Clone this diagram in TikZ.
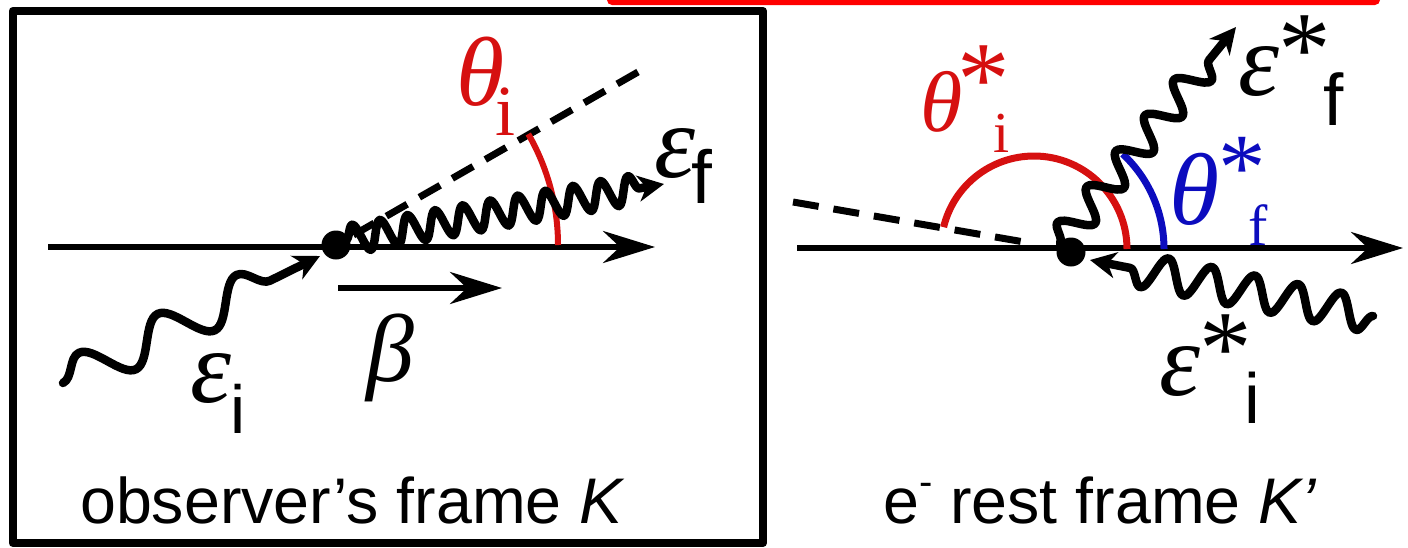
\documentclass[tikz,border=0pt]{standalone}
\usepackage{fontspec}
\setmainfont{Liberation Sans}
\newfontfamily\serifgr{Liberation Serif}
\usetikzlibrary{arrows.meta,decorations.pathmorphing}
\definecolor{angred}{RGB}{214,16,16}
\definecolor{angblue}{RGB}{12,12,190}
\newcommand{\fsz}[1]{\fontsize{#1}{#1}\selectfont}
\begin{document}
\begin{tikzpicture}[x=1pt,y=-1pt,
  axisarrow/.style={line width=5.5pt, -{Stealth[length=52pt,width=32pt,inset=17pt]}},
  photon/.style={line width=8.5pt, line cap=round, line join=round, decorate, -{Stealth[length=26pt,width=26pt,inset=8pt]}},
  dashline/.style={line width=7pt, dash pattern=on 24pt off 14pt},
  electron/.style={circle, fill=black, inner sep=0pt, minimum size=29pt},
  lbl/.style={inner sep=0pt, anchor=center},
  grk/.style={lbl, font=\serifgr\itshape\fsz{#1}},
  srf/.style={lbl, font=\serifgr\fsz{#1}},
  ssf/.style={lbl, font=\fsz{#1}},
  caption/.style={inner sep=0pt, font=\fsz{64.5}}
]
\useasboundingbox (0,0) rectangle (1408,547);

% top red bar and frame
\fill[red, rounded corners=5pt] (607,-12) rectangle (1380,5);
\draw[line width=8pt, line join=round] (12.7,11) rectangle (763,543);

% ---------- left panel: observer's frame ----------
\coordinate (LaxS) at (48,247);
\coordinate (LaxE) at (655,247);
\coordinate (LdashE) at (638,72);
\coordinate (LbS) at (338,288);
\coordinate (LbE) at (502,288);
\coordinate (LinS) at (63,383);
\coordinate (LinE) at (320,256);
\coordinate (LoutS) at (346,240);
\coordinate (LoutE) at (664,184);
\coordinate (LeC) at (336,245);

\draw[axisarrow] (LaxS) -- (LaxE);
\draw[dashline] (LdashE) -- (LeC);
\draw[angred, line width=6pt] ([xshift=222pt]LeC) arc[start angle=0, end angle=-30, radius=222];
\draw[photon, decoration={snake, amplitude=20pt, segment length=88pt, post length=16pt}] (LinS) -- (LinE);
\draw[photon, decoration={snake, amplitude=14pt, segment length=28pt, post length=24pt}] (LoutS) -- (LoutE);
\draw[axisarrow] (LbS) -- (LbE);
\node[electron] (eL) at (LeC) {};

\node[grk=98, text=angred] (thL) at (481,72) {θ};
\node[srf=72, text=angred] (thLi) at (505,112) {i};
\node[grk=104] (efL) at (675,154) {ε};
\node[ssf=75] (efLf) at (702,176) {f};
\node[grk=104] (eiL) at (211,378) {ε};
\node[ssf=68] (eiLi) at (238,409) {i};
\node[grk=96] (beta) at (390,358) {β};
\node[caption, anchor=base west] (capL) at (80,523) {observer’s frame \textit{K}};

% ---------- right panel: electron rest frame ----------
\coordinate (RaxS) at (797,248);
\coordinate (RaxE) at (1403,248);
\coordinate (RdashS) at (793,202);
\coordinate (RdashE) at (1030,243);
\coordinate (Rv) at (1034,249);
\coordinate (RfS) at (1060,243);
\coordinate (RfE) at (1236,27);
\coordinate (RiS) at (1373,316);
\coordinate (RiE) at (1090,260);
\coordinate (ReC) at (1071,252);

\draw[axisarrow] (RaxS) -- (RaxE);
\draw[dashline, dash pattern=on 26pt off 15pt] (RdashS) -- (RdashE);
\draw[angred, line width=7pt] ([xshift=93pt]Rv) arc[start angle=0, end angle=-166.4, radius=93];
\draw[angblue, line width=7pt] ([xshift=130pt]Rv) arc[start angle=0, end angle=-47, radius=130];
\draw[photon, decoration={snake, amplitude=15pt, segment length=46pt, post length=22pt}] (RfS) -- (RfE);
\draw[photon, decoration={snake, amplitude=17pt, segment length=44pt, post length=20pt}] (RiS) -- (RiE);
\node[electron] (eR) at (ReC) {};

\node[grk=86, text=angred] (thRi) at (942,102) {θ};
\node[srf=105, text=angred] (thRis) at (984,80) {*};
\node[srf=58, text=angred] (thRii) at (1002,133) {i};
\node[grk=102, text=angblue] (thRf) at (1195,189) {θ};
\node[srf=95, text=angblue] (thRfs) at (1242,168) {*};
\node[srf=58, text=angblue] (thRff) at (1258,225) {f};
\node[grk=104] (efR) at (1259,72) {ε};
\node[srf=105] (efRs) at (1305,50) {*};
\node[ssf=73] (efRf) at (1334,99) {f};
\node[grk=104] (eiR) at (1180,371) {ε};
\node[srf=105] (eiRs) at (1226,349) {*};
\node[ssf=71] (eiRi) at (1252,398) {i};
\node[caption, anchor=base] (capR) at (1100,523) {e\raisebox{0.42em}{\fsz{40}-} rest frame \textit{K’}};
\end{tikzpicture}
\end{document}
